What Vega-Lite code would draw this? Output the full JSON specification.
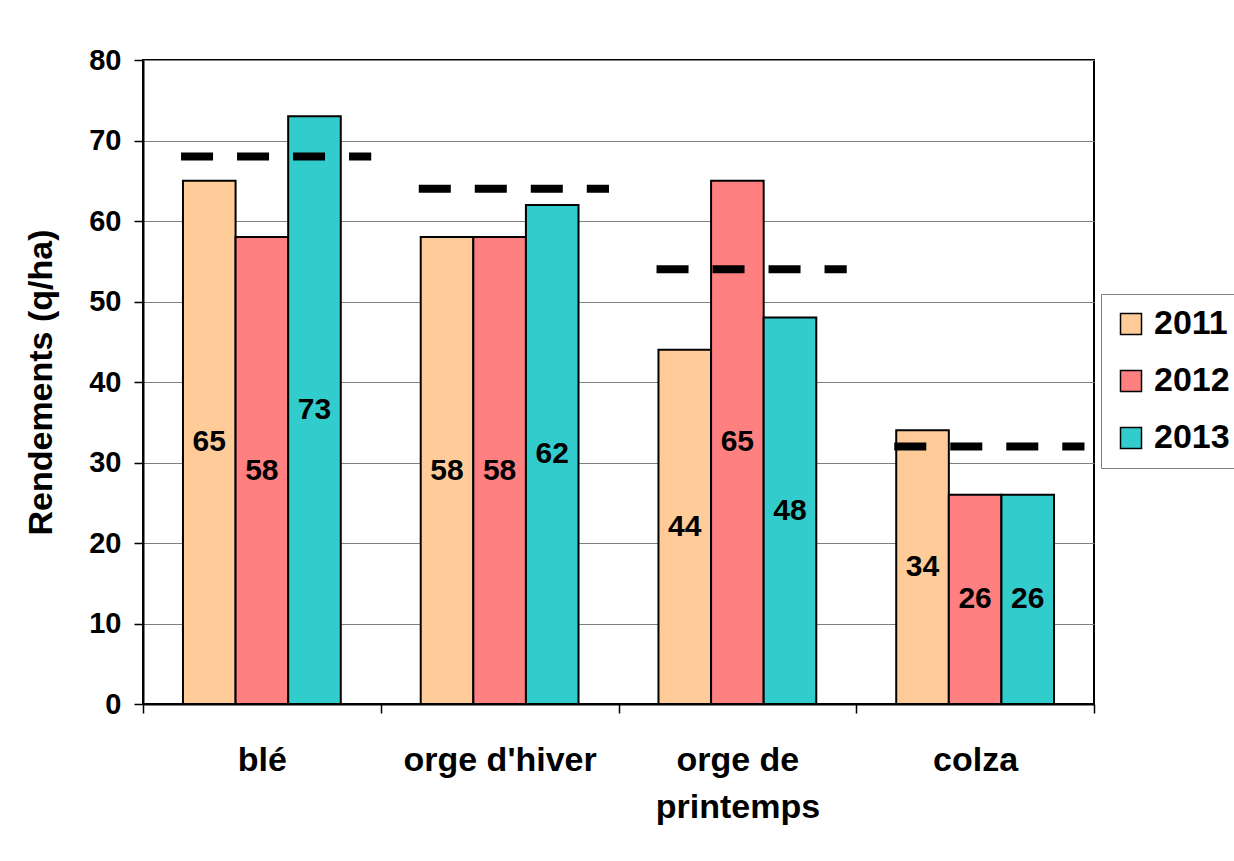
{
  "$schema": "https://vega.github.io/schema/vega-lite/v6.json",
  "width": 951,
  "height": 644,
  "autosize": {"type": "none"},
  "padding": {"left": 143, "top": 60, "right": 140, "bottom": 157},
  "background": "white",
  "config": {
    "font": "Liberation Sans",
    "view": {"stroke": "black", "strokeWidth": 2}
  },
  "datasets": {
    "bars": [
      {"crop": "blé", "year": "2011", "value": 65},
      {"crop": "blé", "year": "2012", "value": 58},
      {"crop": "blé", "year": "2013", "value": 73},
      {"crop": "orge d'hiver", "year": "2011", "value": 58},
      {"crop": "orge d'hiver", "year": "2012", "value": 58},
      {"crop": "orge d'hiver", "year": "2013", "value": 62},
      {"crop": "orge de printemps", "year": "2011", "value": 44},
      {"crop": "orge de printemps", "year": "2012", "value": 65},
      {"crop": "orge de printemps", "year": "2013", "value": 48},
      {"crop": "colza", "year": "2011", "value": 34},
      {"crop": "colza", "year": "2012", "value": 26},
      {"crop": "colza", "year": "2013", "value": 26}
    ],
    "avg": [
      {"crop": "blé", "avg": 68},
      {"crop": "orge d'hiver", "avg": 64},
      {"crop": "orge de printemps", "avg": 54},
      {"crop": "colza", "avg": 32}
    ]
  },
  "layer": [
    {
      "data": {"name": "bars"},
      "mark": {"type": "bar", "stroke": "black", "strokeWidth": 2},
      "encoding": {
        "x": {
          "field": "crop",
          "type": "nominal",
          "sort": ["blé", "orge d'hiver", "orge de printemps", "colza"],
          "scale": {"domain": ["blé", "orge d'hiver", "orge de printemps", "colza"], "paddingInner": 0, "paddingOuter": 0},
          "axis": {
            "title": null,
            "labelAngle": 0,
            "labelLimit": 0,
            "tickBand": "extent",
            "domainColor": "black",
            "domainWidth": 2,
            "tickColor": "black",
            "tickSize": 9,
            "tickWidth": 1.5,
            "labelFontSize": 34,
            "labelFontWeight": "bold",
            "labelColor": "black",
            "labelPadding": 30,
            "labelLineHeight": 47,
            "labelExpr": "datum.label == 'orge de printemps' ? ['orge de', 'printemps'] : datum.label"
          }
        },
        "xOffset": {
          "field": "year",
          "type": "nominal",
          "scale": {"paddingInner": 0, "paddingOuter": 0.76}
        },
        "y": {
          "field": "value",
          "type": "quantitative",
          "scale": {"domain": [0, 80]},
          "axis": {
            "title": "Rendements (q/ha)",
            "titleFontSize": 34,
            "titleFontWeight": "bold",
            "titleColor": "black",
            "titlePadding": 30,
            "values": [0, 10, 20, 30, 40, 50, 60, 70, 80],
            "domainColor": "black",
            "domainWidth": 2,
            "tickColor": "black",
            "tickSize": 9,
            "tickWidth": 1.5,
            "labelFontSize": 29,
            "labelFontWeight": "bold",
            "labelColor": "black",
            "labelPadding": 13,
            "grid": true,
            "gridColor": "#808080",
            "gridWidth": 1
          }
        },
        "color": {
          "field": "year",
          "type": "nominal",
          "scale": {"domain": ["2011", "2012", "2013"], "range": ["#FFCC99", "#FF8080", "#33CCCC"]},
          "legend": {
            "title": null,
            "orient": "none",
            "legendX": 958,
            "legendY": 234,
            "strokeColor": "#808080",
            "fillColor": "white",
            "padding": 13,
            "symbolType": "square",
            "symbolSize": 441,
            "symbolStrokeColor": "black",
            "symbolStrokeWidth": 1.5,
            "symbolOpacity": 1,
            "labelFontSize": 34,
            "labelFontWeight": "bold",
            "labelColor": "black",
            "labelOffset": 6,
            "labelLimit": 0,
            "rowPadding": 23
          }
        }
      }
    },
    {
      "data": {"name": "avg"},
      "mark": {"type": "rule", "strokeWidth": 8, "strokeDash": [32, 24], "color": "black", "strokeCap": "butt"},
      "encoding": {
        "x": {"field": "crop", "type": "nominal", "bandPosition": 0.16},
        "x2": {"field": "crop", "bandPosition": 0.96},
        "y": {"field": "avg", "type": "quantitative", "scale": {"domain": [0, 80]}, "axis": null}
      }
    },
    {
      "data": {"name": "bars"},
      "mark": {"type": "text", "fontSize": 30, "fontWeight": "bold", "color": "black", "baseline": "middle"},
      "encoding": {
        "x": {"field": "crop", "type": "nominal"},
        "xOffset": {"field": "year", "type": "nominal"},
        "y": {"field": "value", "type": "quantitative", "scale": {"domain": [0, 160]}, "axis": null},
        "text": {"field": "value", "type": "quantitative"}
      }
    }
  ],
  "resolve": {"scale": {"y": "independent"}}
}
